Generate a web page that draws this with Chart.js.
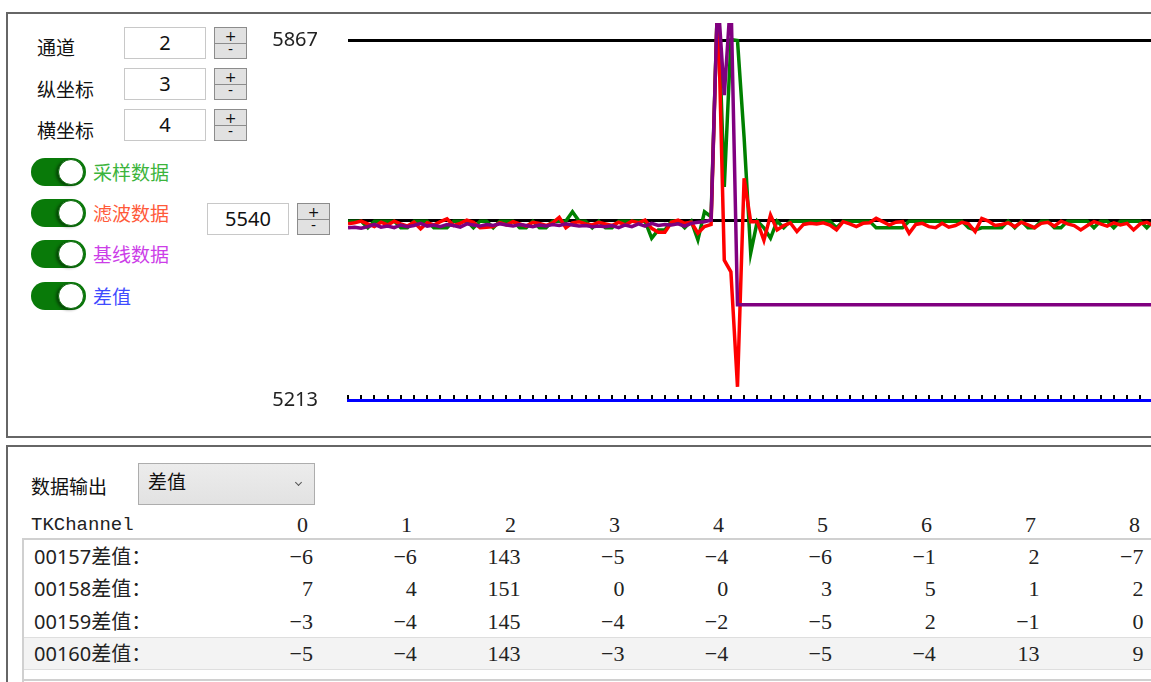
<!DOCTYPE html>
<html>
<head>
<meta charset="utf-8">
<script src="https://cdn.jsdelivr.net/npm/chart.js@4.4.1/dist/chart.umd.min.js"></script>
<style>
  body { margin: 0; width: 1151px; height: 682px; overflow: hidden; background: #fff; position: relative;
         font-family: "Noto Sans CJK SC", "Noto Sans", sans-serif; color: #111; }
  .panel { position: absolute; border: 2px solid #666; background: #fff; }
  .lbl { position: absolute; font-size: 19px; line-height: 24px; white-space: nowrap; }
  .box { position: absolute; width: 80px; height: 30px; border: 1px solid #c8c8c8; background: #fff;
         text-align: center; font: 20px "Noto Sans", sans-serif; line-height: 30px; color: #111; z-index: 2; }
  .spin { position: absolute; width: 31px; height: 30px; border: 1px solid #8c8c8c; background: #e1e1e1; z-index: 2; }
  .spin div { height: 15px; line-height: 14px; text-align: center; font: 14px "DejaVu Sans", sans-serif; color: #111; }
  .spin div + div { height: 14px; border-top: 1px solid #8c8c8c; line-height: 11px; }
  .tg { position: absolute; left: 31px; width: 55px; height: 28px; border-radius: 14px; background: #097a09; }
  .tg::after { content: ''; position: absolute; right: 2px; top: 1px; width: 24px; height: 24px; border-radius: 50%;
               background: #fff; border: 1px solid #0b6a0b; box-shadow: -2px 1px 3px rgba(0,0,0,0.45); }
  #chartBox { position: absolute; left: 250px; top: 14px; width: 910px; height: 410px; z-index: 1; }
  .cell { position: absolute; font: 22px "Liberation Serif", serif; color: #222; line-height: 26px; white-space: nowrap; }
</style>
</head>
<body>

<div class="panel" style="left:6px; top:12px; width:1170px; height:422px;"></div>
<div class="panel" style="left:6px; top:445px; width:1170px; height:260px;"></div>

<!-- top controls -->
<div class="lbl" style="left:37px; top:35px;">通道</div>
<div class="box" style="left:124px; top:27px;">2</div>
<div class="spin" style="left:214px; top:27px;"><div>+</div><div>-</div></div>

<div class="lbl" style="left:37px; top:77px;">纵坐标</div>
<div class="box" style="left:124px; top:68px;">3</div>
<div class="spin" style="left:214px; top:68px;"><div>+</div><div>-</div></div>

<div class="lbl" style="left:37px; top:118px;">横坐标</div>
<div class="box" style="left:124px; top:109px;">4</div>
<div class="spin" style="left:214px; top:109px;"><div>+</div><div>-</div></div>

<div class="tg" style="top:158px;"></div>
<div class="lbl" style="left:93px; top:160px; color:#3cb43c;">采样数据</div>
<div class="tg" style="top:199px;"></div>
<div class="lbl" style="left:93px; top:201px; color:#ff5a3a;">滤波数据</div>
<div class="tg" style="top:240px;"></div>
<div class="lbl" style="left:93px; top:242px; color:#cc3ee8;">基线数据</div>
<div class="tg" style="top:282px;"></div>
<div class="lbl" style="left:93px; top:284px; color:#3f4cff;">差值</div>

<div class="box" style="left:207px; top:203px;">5540</div>
<div class="spin" style="left:297px; top:203px;"><div>+</div><div>-</div></div>

<div id="chartBox"><canvas id="waveChart" width="910" height="410"></canvas></div>

<!-- bottom panel -->
<div class="lbl" style="left:31px; top:474px;">数据输出</div>
<div style="position:absolute; left:138px; top:463px; width:175px; height:40px; border:1px solid #adadad; background:linear-gradient(#ececec,#e2e2e2);"></div>
<div class="lbl" style="left:148px; top:469px;">差值</div>
<div style="position:absolute; left:296px; top:480px; width:4px; height:4px; border-right:1px solid #555; border-bottom:1px solid #555; transform:rotate(45deg);"></div>

<div style="position:absolute; left:22px; top:538px; width:1140px; height:1px; border-top:2px solid #d0d0d0;"></div>
<div style="position:absolute; left:22px; top:538px; width:1px; height:150px; border-left:2px solid #d0d0d0;"></div>
<div style="position:absolute; left:24px; top:637px; width:1140px; height:31px; background:#f3f3f3; border-top:1px solid #dedede; border-bottom:1px solid #dedede;"></div>
<div style="position:absolute; left:22px; top:679px; width:1140px; height:1px; border-top:2px solid #d0d0d0;"></div>

<div id="table"></div>

<script>
// x sample index and y tick values
const sampleIndex = Array.from({ length: 124 }, (_, i) => i);
const yTicks = [5213, 5540, 5867];

// 采样数据 (green)
const sampled = [
  5538, 5538, 5538, 5526, 5538, 5538, 5538, 5538, 5526, 5526,
  5538, 5538, 5538, 5526, 5526, 5526, 5538, 5538, 5538, 5526,
  5538, 5538, 5526, 5538, 5538, 5538, 5526, 5526, 5538, 5526,
  5526, 5538, 5538, 5538, 5555, 5538, 5538, 5526, 5538, 5526,
  5526, 5538, 5538, 5538, 5538, 5538, 5507, 5522, 5522, 5538,
  5538, 5526, 5538, 5504, 5555, 5546, 5950, 5600, 5868, 5866,
  5690, 5480, 5538, 5526, 5507, 5538, 5526, 5538, 5538, 5538,
  5538, 5538, 5538, 5538, 5526, 5538, 5538, 5538, 5538, 5538,
  5526, 5526, 5526, 5526, 5526, 5538, 5538, 5538, 5538, 5538,
  5538, 5538, 5538, 5538, 5526, 5522, 5526, 5526, 5526, 5526,
  5538, 5526, 5538, 5526, 5526, 5538, 5538, 5526, 5526, 5538,
  5538, 5538, 5538, 5526, 5538, 5538, 5526, 5538, 5538, 5538,
  5538, 5526, 5538, 5538
];

// 滤波数据 (red)
const filtered = [
  5533, 5535, 5538, 5533, 5528, 5536, 5531, 5538, 5533, 5529,
  5536, 5524, 5535, 5531, 5537, 5542, 5530, 5534, 5540, 5536,
  5526, 5527, 5528, 5535, 5531, 5537, 5533, 5529, 5536, 5534,
  5530, 5535, 5545, 5526, 5535, 5537, 5533, 5531, 5536, 5533,
  5530, 5536, 5531, 5538, 5535, 5540, 5525, 5518, 5518, 5536,
  5540, 5534, 5536, 5516, 5528, 5532, 5950, 5467, 5446, 5237,
  5616, 5537, 5537, 5503, 5549, 5522, 5530, 5535, 5519, 5532,
  5534, 5533, 5535, 5531, 5522, 5537, 5533, 5528, 5534, 5535,
  5543, 5537, 5531, 5536, 5537, 5516, 5532, 5534, 5528, 5526,
  5534, 5527, 5530, 5536, 5533, 5519, 5543, 5538, 5530, 5532,
  5535, 5528, 5536, 5531, 5526, 5534, 5536, 5529, 5538, 5533,
  5530, 5522, 5530, 5537, 5533, 5529, 5535, 5531, 5534, 5522,
  5533, 5536, 5530, 5533
];

// 基线数据 (purple)
const baseline = [
  5526, 5527, 5525, 5528, 5532, 5527, 5529, 5526, 5531, 5528,
  5530, 5534, 5529, 5531, 5528, 5532, 5530, 5527, 5533, 5531,
  5529, 5532, 5530, 5533, 5531, 5529, 5532, 5530, 5528, 5531,
  5529, 5532, 5530, 5533, 5531, 5529, 5530, 5528, 5529, 5528,
  5530, 5526, 5531, 5528, 5533, 5529, 5534, 5530, 5532, 5531,
  5533, 5529, 5534, 5536, 5537, 5540, 5950, 5767, 5950, 5386,
  5386, 5386, 5386, 5386, 5386, 5386, 5386, 5386, 5386, 5386,
  5386, 5386, 5386, 5386, 5386, 5386, 5386, 5386, 5386, 5386,
  5386, 5386, 5386, 5386, 5386, 5386, 5386, 5386, 5386, 5386,
  5386, 5386, 5386, 5386, 5386, 5386, 5386, 5386, 5386, 5386,
  5386, 5386, 5386, 5386, 5386, 5386, 5386, 5386, 5386, 5386,
  5386, 5386, 5386, 5386, 5386, 5386, 5386, 5386, 5386, 5386,
  5386, 5386, 5386, 5386
];

// table: 差值 per channel
const channels = [0, 1, 2, 3, 4, 5, 6, 7, 8];
const frameIds = ['00157', '00158', '00159', '00160'];
const diff157 = [-6, -6, 143, -5, -4, -6, -1, 2, -7];
const diff158 = [7, 4, 151, 0, 0, 3, 5, 1, 2];
const diff159 = [-3, -4, 145, -4, -2, -5, 2, -1, 0];
const diff160 = [-5, -4, 143, -3, -4, -5, -4, 13, 9];

// build the table text
const table = document.getElementById('table');
function addCell(text, left, top, right, extra) {
  const d = document.createElement('div');
  d.className = 'cell';
  d.textContent = text;
  if (right) d.style.right = (1151 - right) + 'px';
  else d.style.left = left + 'px';
  d.style.top = top + 'px';
  if (extra) Object.assign(d.style, extra);
  table.appendChild(d);
}
addCell('TKChannel', 31, 512, null, { fontFamily: '"Liberation Mono", monospace', fontSize: '19px' });
channels.forEach((c, i) => addCell(String(c), null, 512, 308 + 104 * i));
[diff157, diff158, diff159, diff160].forEach((row, r) => {
  const top = 544 + r * 32.3;
  addCell(frameIds[r] + '差值：', 34, top, null,
    { fontFamily: '"Noto Sans", "Noto Sans CJK SC", sans-serif', fontSize: '20px', color: '#222' });
  row.forEach((v, i) => addCell(v < 0 ? '−' + (-v) : String(v), null, top, 313 + 103.8 * i));
});

// the wave chart
const ctx = document.getElementById('waveChart');
new Chart(ctx, {
  type: 'line',
  data: {
    labels: sampleIndex,
    datasets: [{
      label: '基线数据',
      data: baseline,
      borderColor: '#800080',
      borderWidth: 3.5,
      pointRadius: 0,
      tension: 0
    }, {
      label: '滤波数据',
      data: filtered,
      borderColor: '#ff0000',
      borderWidth: 3.5,
      pointRadius: 0,
      tension: 0
    }, {
      label: '采样数据',
      data: sampled,
      borderColor: '#008000',
      borderWidth: 3.5,
      pointRadius: 0,
      tension: 0
    }]
  },
  options: {
    responsive: false,
    animation: false,
    layout: { padding: { top: 9, bottom: 24, left: 0, right: 0 } },
    plugins: { legend: { display: false }, tooltip: { enabled: false } },
    scales: {
      x: {
        type: 'linear',
        min: 0,
        max: 123,
        ticks: { stepSize: 2, display: false },
        grid: { drawOnChartArea: false, drawTicks: true, tickLength: -5, color: '#000', lineWidth: 2 },
        border: { color: '#0000ff', width: 3 },
        afterFit: s => { s.height = 0; }
      },
      y: {
        min: 5213,
        max: 5898,
        afterBuildTicks: s => { s.ticks = yTicks.map(v => ({ value: v })); },
        ticks: {
          padding: 30,
          color: '#222',
          font: { size: 20, family: 'Noto Sans' },
          callback: v => (v === 5540 ? '' : String(v))
        },
        grid: {
          color: c => (c.tick && c.tick.value === 5213 ? 'rgba(0,0,0,0)' : '#000'),
          lineWidth: 3,
          drawTicks: false
        },
        border: { display: false },
        afterFit: s => { s.width = 98; s.paddingTop = 0; s.paddingBottom = 0; }
      }
    }
  }
});
</script>
</body>
</html>
